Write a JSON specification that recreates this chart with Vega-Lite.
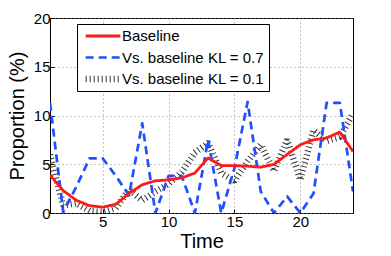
{
  "$schema": "https://vega.github.io/schema/vega-lite/v6.json",
  "width": 303,
  "height": 195,
  "autosize": {"type": "none"},
  "padding": {"left": 50, "top": 18, "right": 38, "bottom": 43},
  "background": "white",
  "config": {
    "font": "Liberation Sans",
    "view": {"stroke": "black", "strokeWidth": 1},
    "axis": {
      "labelFont": "Liberation Sans",
      "labelFontSize": 15,
      "labelColor": "black",
      "titleFont": "Liberation Sans",
      "titleFontSize": 20,
      "titleFontWeight": "normal",
      "titleColor": "black",
      "domain": false,
      "tickColor": "black",
      "tickSize": -4,
      "grid": true,
      "gridColor": "#888",
      "gridDash": [1, 3],
      "gridWidth": 1
    },
    "legend": {
      "title": null,
      "orient": "none",
      "legendX": 27,
      "legendY": 6,
      "fillColor": "white",
      "strokeColor": "black",
      "padding": 4,
      "rowPadding": 5.5,
      "clipHeight": 16,
      "symbolType": "stroke",
      "symbolSize": 1200,
      "symbolOffset": 1,
      "labelFont": "Liberation Sans",
      "labelFontSize": 15,
      "labelColor": "black",
      "labelOffset": -2,
      "labelLimit": 300
    }
  },
  "data": {
    "values": [
      {"t": 1, "s": "Vs. baseline KL = 0.1", "v": 6.0},
      {"t": 2, "s": "Vs. baseline KL = 0.1", "v": 0.8},
      {"t": 3, "s": "Vs. baseline KL = 0.1", "v": 1.0},
      {"t": 4, "s": "Vs. baseline KL = 0.1", "v": 0.2},
      {"t": 5, "s": "Vs. baseline KL = 0.1", "v": 0.1},
      {"t": 6, "s": "Vs. baseline KL = 0.1", "v": 0.5},
      {"t": 7, "s": "Vs. baseline KL = 0.1", "v": 2.4},
      {"t": 8, "s": "Vs. baseline KL = 0.1", "v": 1.3},
      {"t": 9, "s": "Vs. baseline KL = 0.1", "v": 2.2},
      {"t": 10, "s": "Vs. baseline KL = 0.1", "v": 3.0},
      {"t": 11, "s": "Vs. baseline KL = 0.1", "v": 4.2},
      {"t": 12, "s": "Vs. baseline KL = 0.1", "v": 6.2},
      {"t": 13, "s": "Vs. baseline KL = 0.1", "v": 7.2},
      {"t": 14, "s": "Vs. baseline KL = 0.1", "v": 4.1},
      {"t": 15, "s": "Vs. baseline KL = 0.1", "v": 3.3},
      {"t": 16, "s": "Vs. baseline KL = 0.1", "v": 5.3},
      {"t": 17, "s": "Vs. baseline KL = 0.1", "v": 7.0},
      {"t": 18, "s": "Vs. baseline KL = 0.1", "v": 4.3},
      {"t": 19, "s": "Vs. baseline KL = 0.1", "v": 7.5},
      {"t": 20, "s": "Vs. baseline KL = 0.1", "v": 3.4},
      {"t": 21, "s": "Vs. baseline KL = 0.1", "v": 8.5},
      {"t": 22, "s": "Vs. baseline KL = 0.1", "v": 7.4},
      {"t": 23, "s": "Vs. baseline KL = 0.1", "v": 7.8},
      {"t": 24, "s": "Vs. baseline KL = 0.1", "v": 10.2},
      {"t": 1, "s": "Vs. baseline KL = 0.7", "v": 11.3},
      {"t": 2, "s": "Vs. baseline KL = 0.7", "v": 0.1},
      {"t": 3, "s": "Vs. baseline KL = 0.7", "v": 2.7},
      {"t": 4, "s": "Vs. baseline KL = 0.7", "v": 5.6},
      {"t": 5, "s": "Vs. baseline KL = 0.7", "v": 5.6},
      {"t": 6, "s": "Vs. baseline KL = 0.7", "v": 3.8},
      {"t": 7, "s": "Vs. baseline KL = 0.7", "v": 1.8},
      {"t": 8, "s": "Vs. baseline KL = 0.7", "v": 9.2},
      {"t": 9, "s": "Vs. baseline KL = 0.7", "v": 0.0},
      {"t": 10, "s": "Vs. baseline KL = 0.7", "v": 3.8},
      {"t": 11, "s": "Vs. baseline KL = 0.7", "v": 3.8},
      {"t": 12, "s": "Vs. baseline KL = 0.7", "v": 0.0},
      {"t": 13, "s": "Vs. baseline KL = 0.7", "v": 7.5},
      {"t": 14, "s": "Vs. baseline KL = 0.7", "v": 0.0},
      {"t": 15, "s": "Vs. baseline KL = 0.7", "v": 4.6},
      {"t": 16, "s": "Vs. baseline KL = 0.7", "v": 11.4},
      {"t": 17, "s": "Vs. baseline KL = 0.7", "v": 2.2},
      {"t": 18, "s": "Vs. baseline KL = 0.7", "v": 0.0},
      {"t": 19, "s": "Vs. baseline KL = 0.7", "v": 1.7},
      {"t": 20, "s": "Vs. baseline KL = 0.7", "v": 0.0},
      {"t": 21, "s": "Vs. baseline KL = 0.7", "v": 2.0},
      {"t": 22, "s": "Vs. baseline KL = 0.7", "v": 11.3},
      {"t": 23, "s": "Vs. baseline KL = 0.7", "v": 11.3},
      {"t": 24, "s": "Vs. baseline KL = 0.7", "v": 2.2},
      {"t": 1, "s": "Baseline", "v": 3.9},
      {"t": 2, "s": "Baseline", "v": 2.3},
      {"t": 3, "s": "Baseline", "v": 1.3},
      {"t": 4, "s": "Baseline", "v": 0.75},
      {"t": 5, "s": "Baseline", "v": 0.6},
      {"t": 6, "s": "Baseline", "v": 0.9},
      {"t": 7, "s": "Baseline", "v": 2.0},
      {"t": 8, "s": "Baseline", "v": 2.9},
      {"t": 9, "s": "Baseline", "v": 3.3},
      {"t": 10, "s": "Baseline", "v": 3.4},
      {"t": 11, "s": "Baseline", "v": 3.6},
      {"t": 12, "s": "Baseline", "v": 4.1},
      {"t": 13, "s": "Baseline", "v": 5.65},
      {"t": 14, "s": "Baseline", "v": 4.85},
      {"t": 15, "s": "Baseline", "v": 4.85},
      {"t": 16, "s": "Baseline", "v": 4.8},
      {"t": 17, "s": "Baseline", "v": 4.7},
      {"t": 18, "s": "Baseline", "v": 5.0},
      {"t": 19, "s": "Baseline", "v": 6.0},
      {"t": 20, "s": "Baseline", "v": 7.0},
      {"t": 21, "s": "Baseline", "v": 7.5},
      {"t": 22, "s": "Baseline", "v": 7.7},
      {"t": 23, "s": "Baseline", "v": 8.3},
      {"t": 24, "s": "Baseline", "v": 6.3}
    ]
  },
  "encoding": {
    "x": {
      "field": "t", "type": "quantitative",
      "scale": {"domain": [1, 24], "nice": false, "zero": false},
      "axis": {"values": [5, 10, 15, 20], "title": "Time", "labelPadding": 5, "titlePadding": 2}
    },
    "y": {
      "field": "v", "type": "quantitative",
      "scale": {"domain": [0, 20], "nice": false},
      "axis": {"values": [0, 5, 10, 15, 20], "title": "Proportion (%)", "labelPadding": 4, "titlePadding": 6}
    },
    "color": {
      "field": "s", "type": "nominal",
      "scale": {"domain": ["Baseline", "Vs. baseline KL = 0.7", "Vs. baseline KL = 0.1"], "range": ["#ff1a1a", "#1f4fff", "#333333"]}
    },
    "strokeDash": {
      "field": "s", "type": "nominal",
      "scale": {"domain": ["Baseline", "Vs. baseline KL = 0.7", "Vs. baseline KL = 0.1"], "range": [[1, 0], [8, 5], [1, 3]]}
    },
    "strokeWidth": {
      "field": "s", "type": "nominal",
      "scale": {"type": "ordinal", "domain": ["Baseline", "Vs. baseline KL = 0.7", "Vs. baseline KL = 0.1"], "range": [2.8, 2.7, 6.5]}
    }
  },
  "layer": [
    {
      "transform": [{"filter": "datum.s === 'Vs. baseline KL = 0.1'"}],
      "mark": {"type": "line", "clip": true, "strokeCap": "butt", "strokeJoin": "bevel"}
    },
    {
      "transform": [{"filter": "datum.s === 'Vs. baseline KL = 0.7'"}],
      "mark": {"type": "line", "clip": true, "strokeCap": "butt", "strokeJoin": "round"}
    },
    {
      "transform": [{"filter": "datum.s === 'Baseline'"}],
      "mark": {"type": "line", "clip": true, "strokeCap": "butt", "strokeJoin": "round"}
    }
  ]
}
